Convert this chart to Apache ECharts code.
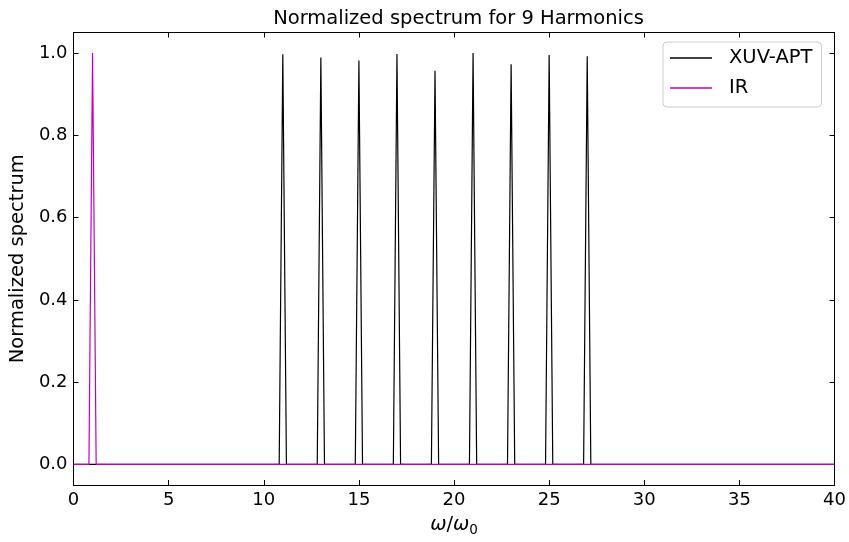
<!DOCTYPE html>
<html>
<head>
<meta charset="utf-8">
<script src="https://cdn.jsdelivr.net/npm/echarts@6/dist/echarts.min.js"></script>
<style>html,body{margin:0;padding:0;background:#fff}#c{width:849px;height:542px}</style>
</head>
<body>
<div id="c"></div>
<script>
// XUV-APT spectrum (harmonics 11..27)
const xuvX = [0, 10.81, 11, 11.19, 12.81, 13, 13.19, 14.81, 15, 15.19, 16.81, 17, 17.19, 18.81, 19, 19.19,
              20.81, 21, 21.19, 22.81, 23, 23.19, 24.81, 25, 25.19, 26.81, 27, 27.19, 40];
const xuvY = [0, 0, 0.997, 0, 0, 0.989, 0, 0, 0.982, 0, 0, 0.998, 0, 0, 0.957, 0,
              0, 1.0, 0, 0, 0.973, 0, 0, 0.995, 0, 0, 0.992, 0, 0];
// IR spectrum
const irX = [0, 0.81, 1.0, 1.19, 40];
const irY = [0, 0, 1.0, 0, 0];
// tick labels
const xTicks = [0, 5, 10, 15, 20, 25, 30, 35, 40];
const yTicks = [0, 0.2, 0.4, 0.6, 0.8, 1.0];

const FONT = 'DejaVu Sans';
const pair = (xs, ys) => xs.map((x, i) => [x, ys[i]]);

const chart = echarts.init(document.getElementById('c'), null, {renderer: 'canvas'});
const tickStyle = {show: true, inside: true, length: 5, lineStyle: {color: '#000', width: 1}};
const lineStyle = {show: true, onZero: false, lineStyle: {color: '#000', width: 1}};

chart.setOption({
  animation: false,
  backgroundColor: '#fff',
  title: {
    text: 'Normalized spectrum for 9 Harmonics',
    left: 453.5, top: 4, textAlign: 'center',
    textStyle: {fontFamily: FONT, fontSize: 19.5, fontWeight: 'normal', color: '#000'}
  },
  legend: {
    orient: 'vertical',
    left: 663, top: 42,
    padding: [6, 9, 9, 7],
    itemGap: 10,
    itemWidth: 42, itemHeight: 1.5,
    borderColor: '#cccccc', borderWidth: 1, borderRadius: 4,
    backgroundColor: 'rgba(255,255,255,0.8)',
    textStyle: {fontFamily: FONT, fontSize: 19.5, color: '#000', lineHeight: 20, padding: [0, 0, 0, 12]},
    data: [{name: 'XUV-APT', icon: 'rect'}, {name: 'IR', icon: 'rect'}]
  },
  grid: {left: 72, right: 14, top: 32.5, bottom: 55, containLabel: false},
  xAxis: [{
    type: 'value', min: 0, max: 40, interval: 5,
    axisLine: lineStyle, axisTick: tickStyle, splitLine: {show: false},
    axisLabel: {fontFamily: FONT, fontSize: 18, color: '#000', margin: 6},
    name: '{i|ω}/{i|ω}{s|0}', nameLocation: 'middle', nameGap: 28,
    nameTextStyle: {
      fontFamily: FONT, fontSize: 19.5, color: '#000',
      rich: {
        i: {fontFamily: FONT, fontSize: 19.5, fontStyle: 'italic', color: '#000'},
        s: {fontFamily: FONT, fontSize: 13.5, color: '#000', padding: [10, 0, 0, 0]}
      }
    }
  }, {
    type: 'value', min: 0, max: 40, interval: 5, position: 'top',
    axisLine: lineStyle, axisTick: tickStyle, splitLine: {show: false},
    axisLabel: {show: false}
  }],
  yAxis: [{
    type: 'value', min: -0.05, max: 1.05,
    axisLine: lineStyle,
    axisTick: Object.assign({customValues: yTicks}, tickStyle),
    splitLine: {show: false},
    axisLabel: {customValues: yTicks, fontFamily: FONT, fontSize: 18, color: '#000', margin: 6,
                formatter: v => v.toFixed(1)},
    name: 'Normalized spectrum', nameLocation: 'middle', nameGap: 41,
    nameTextStyle: {fontFamily: FONT, fontSize: 19.5, color: '#000'}
  }, {
    type: 'value', min: -0.05, max: 1.05, position: 'right',
    axisLine: lineStyle,
    axisTick: Object.assign({customValues: yTicks}, tickStyle),
    splitLine: {show: false},
    axisLabel: {show: false}
  }],
  series: [{
    name: 'XUV-APT', type: 'line', xAxisIndex: 0, yAxisIndex: 0,
    data: pair(xuvX, xuvY), showSymbol: false, symbol: 'none',
    lineStyle: {color: '#000', width: 1.2}, itemStyle: {color: '#000'}, z: 2
  }, {
    name: 'IR', type: 'line', xAxisIndex: 0, yAxisIndex: 0,
    data: pair(irX, irY), showSymbol: false, symbol: 'none',
    lineStyle: {color: '#bf00bf', width: 1.2}, itemStyle: {color: '#bf00bf'}, z: 3
  }]
});
</script>
</body>
</html>
